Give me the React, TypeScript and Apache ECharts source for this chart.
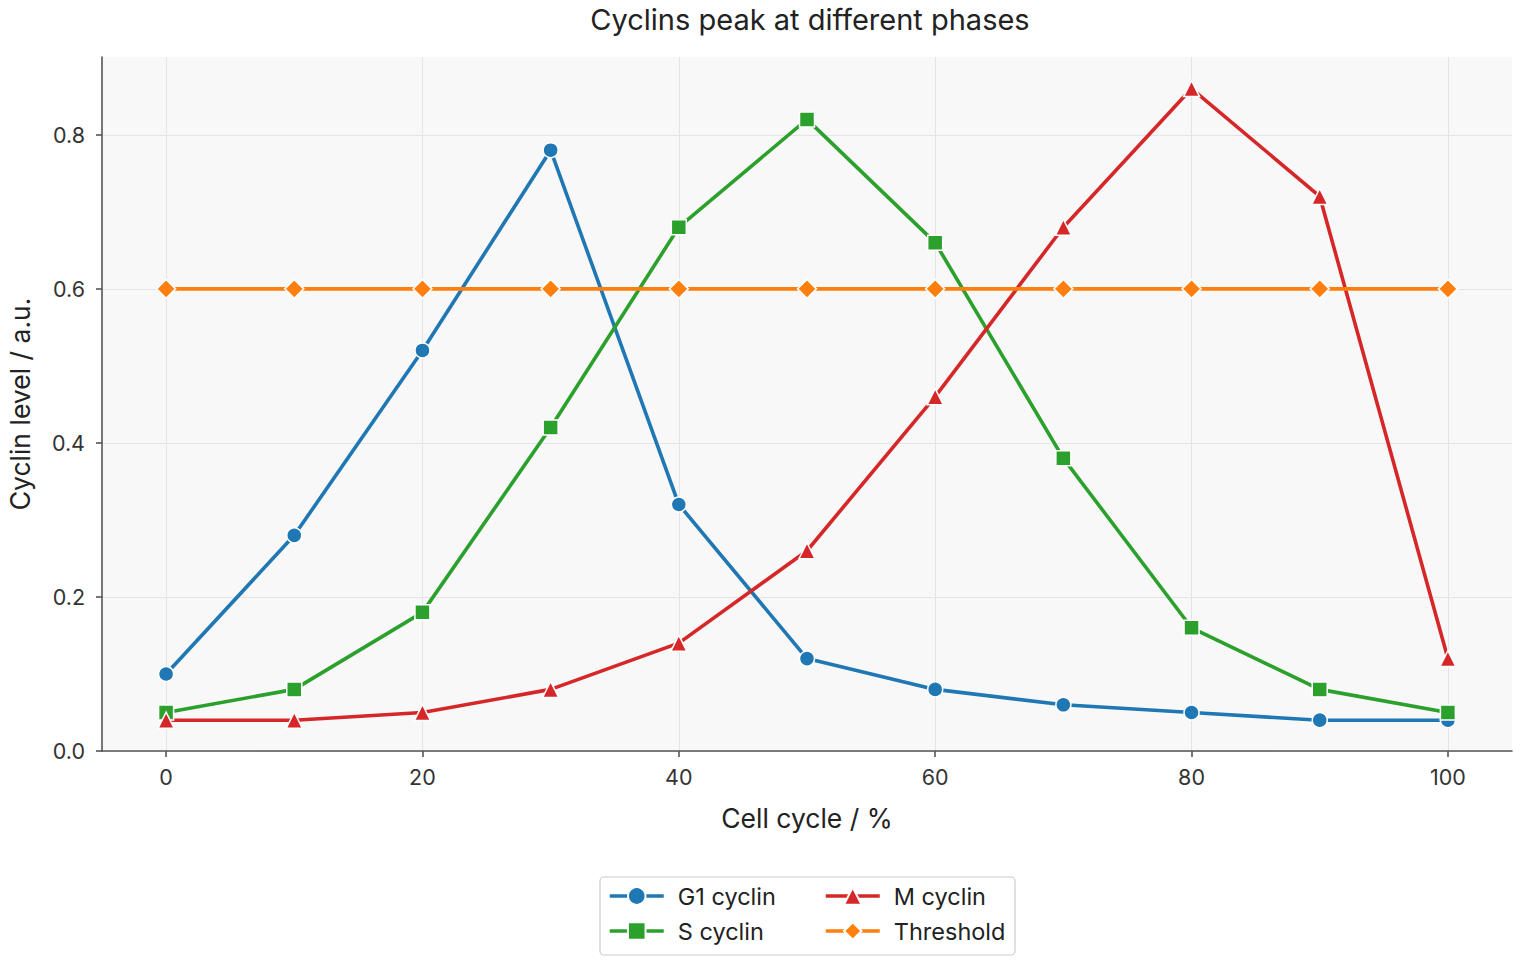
import React, { useEffect, useRef } from "react";
import * as echarts from "echarts";

const xValues = [0, 10, 20, 30, 40, 50, 60, 70, 80, 90, 100];
const g1Cyclin = [0.1, 0.28, 0.52, 0.78, 0.32, 0.12, 0.08, 0.06, 0.05, 0.04, 0.04];
const sCyclin = [0.05, 0.08, 0.18, 0.42, 0.68, 0.82, 0.66, 0.38, 0.16, 0.08, 0.05];
const mCyclin = [0.04, 0.04, 0.05, 0.08, 0.14, 0.26, 0.46, 0.68, 0.86, 0.72, 0.12];
const threshold = [0.6, 0.6, 0.6, 0.6, 0.6, 0.6, 0.6, 0.6, 0.6, 0.6, 0.6];
const xTicks = [0, 20, 40, 60, 80, 100];
const yTicks = [0, 0.2, 0.4, 0.6, 0.8];

const FONT = "Inter";
const TXT = "#333333";
const AX = "#555555";

const seriesDefs = [
  { name: "G1 cyclin", data: g1Cyclin, color: "#1f77b4", symbol: "circle", size: 15 },
  { name: "S cyclin", data: sCyclin, color: "#2ca02c", symbol: "rect", size: 15 },
  { name: "M cyclin", data: mCyclin, color: "#d62728", symbol: "triangle", size: 16 },
  { name: "Threshold", data: threshold, color: "#ff7f0e", symbol: "diamond", size: 19 },
];

export default function App() {
  const ref = useRef<HTMLDivElement>(null);
  useEffect(() => {
    document.body.style.margin = "0";
    const chart = echarts.init(ref.current!, null, { renderer: "svg" });
    const legendCommon = {
      orient: "vertical",
      top: 884,
      itemWidth: 54,
      itemHeight: 22,
      itemGap: 11,
      padding: 0,
      lineStyle: { width: 3.5 },
      textStyle: { fontFamily: FONT, fontSize: 23.5, color: "#222", padding: [0, 0, 0, 9] },
    };
    chart.setOption({
      animation: false,
      textStyle: { fontFamily: FONT },
      title: {
        text: "Cyclins peak at different phases",
        left: 805,
        top: 0,
        textAlign: "center",
        textStyle: { fontFamily: FONT, fontSize: 29, fontWeight: "normal", color: "#222" },
      },
      grid: {
        left: 102,
        right: 8,
        top: 57,
        bottom: 209,
        outerBoundsMode: "none",
        containLabel: false,
        show: true,
        backgroundColor: "#f8f8f8",
        borderWidth: 0,
      },
      legend: [
        { ...legendCommon, left: 608, data: ["G1 cyclin", "S cyclin"] },
        { ...legendCommon, left: 824, data: ["M cyclin", "Threshold"] },
      ],
      graphic: [
        {
          type: "rect",
          shape: { x: 600, y: 877, width: 415, height: 78, r: 4 },
          style: { fill: "none", stroke: "#cccccc", lineWidth: 1.2 },
          silent: true,
        },
      ],
      xAxis: {
        type: "value",
        min: -5,
        max: 105,
        name: "Cell cycle / %",
        nameLocation: "middle",
        nameGap: 53,
        nameTextStyle: { fontFamily: FONT, fontSize: 26.5, color: "#222" },
        axisLine: { show: true, onZero: false, lineStyle: { color: AX, width: 1.6 } },
        axisTick: { show: true, length: 6, lineStyle: { color: AX, width: 1.6 }, customValues: xTicks },
        axisLabel: {
          fontFamily: FONT,
          fontSize: 21.5,
          color: TXT,
          margin: 15,
          customValues: xTicks,
          formatter: (v: number) => String(Math.round(v)),
        },
        splitLine: { show: true, lineStyle: { color: "#e4e4e8", width: 1 }, customValues: xTicks },
      },
      yAxis: {
        type: "value",
        min: 0,
        max: 0.901,
        name: "Cyclin level / a.u.",
        nameLocation: "middle",
        nameGap: 69,
        nameTextStyle: { fontFamily: FONT, fontSize: 26.5, color: "#222" },
        axisLine: { show: true, onZero: false, lineStyle: { color: AX, width: 1.6 } },
        axisTick: { show: true, length: 6, lineStyle: { color: AX, width: 1.6 }, customValues: yTicks },
        axisLabel: {
          fontFamily: FONT,
          fontSize: 21.5,
          color: TXT,
          margin: 17,
          customValues: yTicks,
          formatter: (v: number) => v.toFixed(1),
        },
        splitLine: { show: true, lineStyle: { color: "#e4e4e8", width: 1 }, customValues: yTicks },
      },
      series: seriesDefs.map((s) => ({
        name: s.name,
        type: "line",
        data: xValues.map((x, i) => [x, s.data[i]]),
        symbol: s.symbol,
        symbolSize: s.size,
        showAllSymbol: true,
        lineStyle: { color: s.color, width: 3.6 },
        itemStyle: { color: s.color, borderColor: "#ffffff", borderWidth: 1.5 },
        emphasis: { disabled: true },
        clip: false,
      })),
    });
    return () => chart.dispose();
  }, []);
  return <div ref={ref} style={{ width: 1520, height: 960 }} />;
}
